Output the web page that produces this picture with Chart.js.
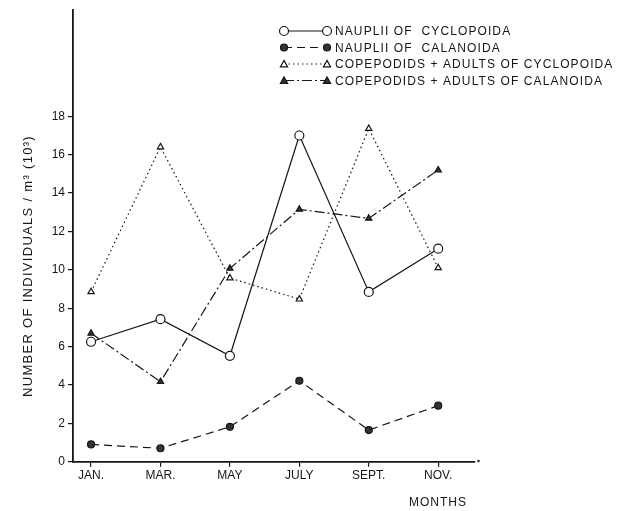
<!DOCTYPE html>
<html>
<head>
<meta charset="utf-8">
<script src="https://cdn.jsdelivr.net/npm/chart.js@4"></script>
<style>
  body { margin: 0; background: #fff; }
  canvas { display: block; }
</style>
</head>
<body>
<canvas id="chart" width="619" height="511"></canvas>
<script>
// values (thousands of individuals per m3)
const months = ["JAN.", "MAR.", "MAY", "JULY", "SEPT.", "NOV."];
const naupliiCyclopoida = [6.25, 7.43, 5.52, 17.0, 8.85, 11.1];
const naupliiCalanoida = [0.9, 0.7, 1.82, 4.22, 1.65, 2.92];
const copepodidsCyclopoida = [8.85, 16.4, 9.57, 8.47, 17.36, 10.1];
const copepodidsCalanoida = [6.69, 4.17, 10.07, 13.15, 12.68, 15.2];
const yTicks = [0, 2, 4, 6, 8, 10, 12, 14, 16, 18];

const legendNames = [
  "NAUPLII OF  CYCLOPOIDA",
  "NAUPLII OF  CALANOIDA",
  "COPEPODIDS + ADULTS OF CYCLOPOIDA",
  "COPEPODIDS + ADULTS OF CALANOIDA"
];

const ink = "#161616";
const font = "'Liberation Sans', Arial, sans-serif";

// line style for each series: dash pattern, marker shape, marker filled
const styles = [
  { dash: [], marker: "circle", filled: false, r: 4.5 },
  { dash: [8, 5], marker: "circle", filled: true, r: 3.5 },
  { dash: [1.5, 3], marker: "triangle", filled: false, r: 3.6 },
  { dash: [10, 3, 2, 3], marker: "triangle", filled: true, r: 3.6 }
];

const seriesValues = [naupliiCyclopoida, naupliiCalanoida, copepodidsCyclopoida, copepodidsCalanoida];

function toPoints(values) {
  return values.map((v, i) => ({ x: i, y: v }));
}

function drawMarker(ctx, st, x, y) {
  ctx.save();
  ctx.setLineDash([]);
  ctx.lineWidth = 1.2;
  ctx.strokeStyle = ink;
  ctx.fillStyle = st.filled ? "#333" : "#fff";
  ctx.beginPath();
  if (st.marker === "circle") {
    ctx.arc(x, y, st.r, 0, Math.PI * 2);
  } else {
    ctx.moveTo(x, y - st.r);
    ctx.lineTo(x + st.r, y + st.r * 0.8);
    ctx.lineTo(x - st.r, y + st.r * 0.8);
    ctx.closePath();
  }
  ctx.fill();
  ctx.stroke();
  ctx.restore();
}

// y title, "MONTHS" and the legend block
const extras = {
  id: "extras",
  afterDraw(chart) {
    const ctx = chart.ctx;
    ctx.save();
    ctx.fillStyle = ink;
    ctx.textBaseline = "middle";

    ctx.save();
    ctx.font = "13px " + font;
    ctx.letterSpacing = "1.3px";
    ctx.translate(28, 266);
    ctx.rotate(-Math.PI / 2);
    ctx.textAlign = "center";
    ctx.fillText("NUMBER OF INDIVIDUALS / m\u00B3 (10\u00B3)", 0, 0);
    ctx.restore();

    ctx.font = "12px " + font;
    ctx.letterSpacing = "1px";
    ctx.textAlign = "center";
    ctx.fillText("MONTHS", 438, 503);

    // little dot at the end of the x axis
    ctx.beginPath();
    ctx.arc(478.5, 461, 1.2, 0, Math.PI * 2);
    ctx.fill();

    const rows = [31, 47.5, 64, 80.5];
    ctx.textAlign = "left";
    ctx.letterSpacing = "1.1px";
    rows.forEach((y, i) => {
      const st = styles[i];
      ctx.save();
      ctx.strokeStyle = ink;
      ctx.lineWidth = 1.2;
      ctx.setLineDash(st.dash);
      ctx.beginPath();
      ctx.moveTo(284, y);
      ctx.lineTo(327, y);
      ctx.stroke();
      ctx.restore();
      drawMarker(ctx, st, 284, y);
      drawMarker(ctx, st, 327, y);
      ctx.fillText(legendNames[i], 335, y + 1);
    });
    ctx.restore();
  }
};

const datasets = seriesValues.map((vals, i) => {
  const st = styles[i];
  return {
    label: legendNames[i],
    data: toPoints(vals),
    borderColor: ink,
    borderWidth: 1.2,
    borderDash: st.dash,
    tension: 0,
    fill: false,
    pointStyle: st.marker,
    pointRadius: st.r,
    pointBorderWidth: 1.2,
    pointBorderColor: ink,
    pointBackgroundColor: st.filled ? "#333" : "#fff"
  };
});

new Chart(document.getElementById("chart"), {
  type: "line",
  data: { datasets: datasets },
  options: {
    responsive: false,
    animation: false,
    devicePixelRatio: 1,
    layout: { padding: { top: 10, right: 144, left: 0, bottom: 0 } },
    plugins: {
      legend: { display: false },
      tooltip: { enabled: false }
    },
    scales: {
      x: {
        type: "linear",
        min: -0.26,
        max: 5.53,
        afterBuildTicks: s => { s.ticks = months.map((m, i) => ({ value: i })); },
        afterFit: s => { s.height = 49.3; },
        ticks: {
          callback: v => months[v],
          color: ink,
          font: { family: font, size: 12 },
          padding: 2,
          maxRotation: 0
        },
        grid: { drawOnChartArea: false, drawTicks: true, tickLength: 5, color: ink, lineWidth: 1.2 },
        border: { display: true, color: ink, width: 1.8 }
      },
      y: {
        type: "linear",
        min: 0,
        max: 23.53,
        afterBuildTicks: s => { s.ticks = yTicks.map(v => ({ value: v })); },
        afterFit: s => { s.width = 73; },
        ticks: {
          color: ink,
          font: { family: font, size: 12 },
          padding: 3
        },
        grid: { drawOnChartArea: false, drawTicks: true, tickLength: 5, color: ink, lineWidth: 1.2 },
        border: { display: true, color: ink, width: 1.8 }
      }
    }
  },
  plugins: [extras]
});
</script>
</body>
</html>
